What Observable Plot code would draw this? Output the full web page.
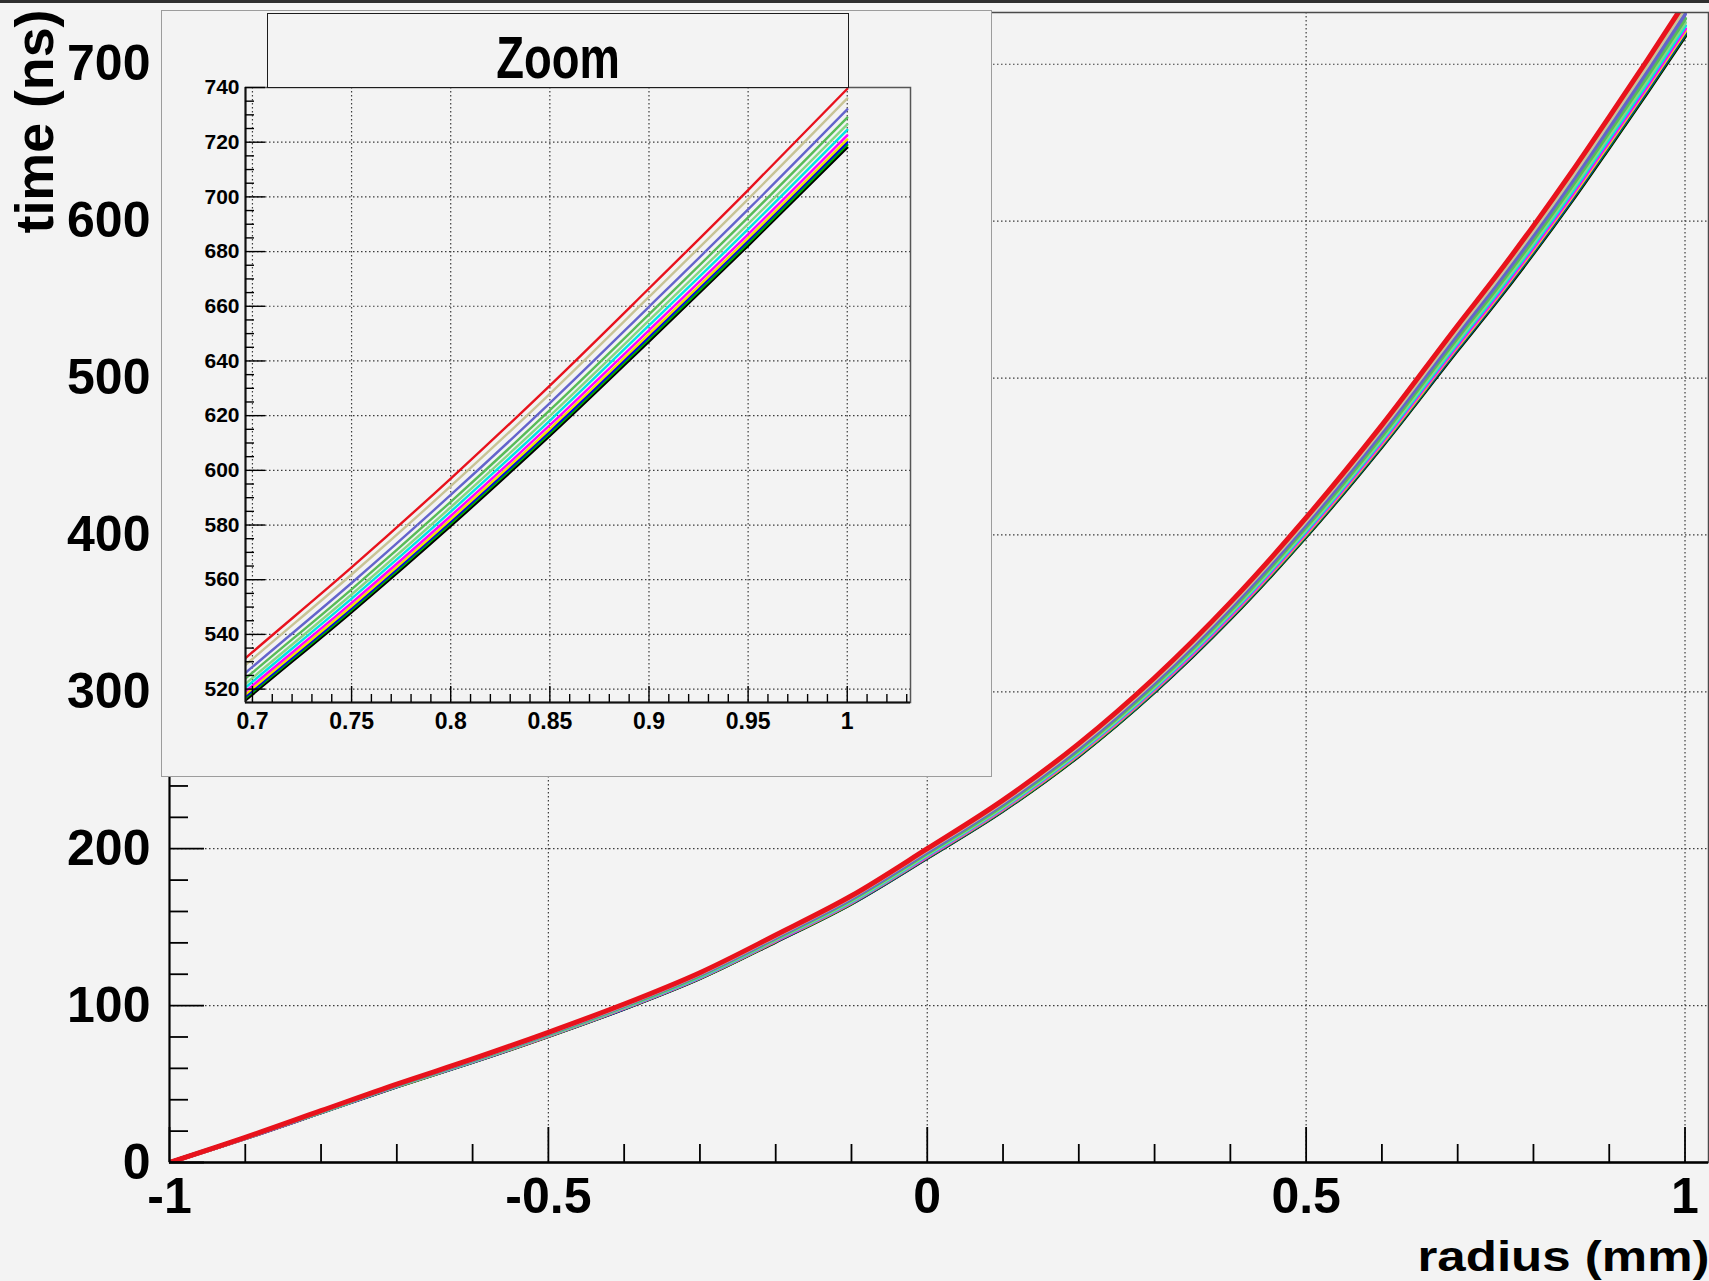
<!DOCTYPE html>
<html>
<head>
<meta charset="utf-8">
<script src="https://cdn.jsdelivr.net/npm/d3@7"></script>
<script src="https://cdn.jsdelivr.net/npm/@observablehq/plot@0.6"></script>
<style>
  html, body { margin: 0; padding: 0; background: #f3f3f3; }
  #canvas { position: relative; width: 1709px; height: 1281px; overflow: hidden; background: #f3f3f3;
            font-family: "Liberation Sans", Arial, Helvetica, sans-serif; }
  #topline { position: absolute; left: 0; top: 0; width: 1709px; height: 3px; background: #2e2e2e; z-index: 5; }
  #main { position: absolute; left: 0; top: 0; }
  #pad { position: absolute; left: 161px; top: 10px; width: 831px; height: 767px; background: #f3f3f3;
         outline: 1px solid #9c9c9c; outline-offset: -1px; }
  #pad svg { position: absolute; left: 0; top: 0; }
  #titlebox { position: absolute; left: 267px; top: 13px; width: 582px; height: 75px; box-sizing: border-box;
              border: 1.5px solid #1c1c1c; background: #f3f3f3; z-index: 3; }
  #titlebox span { position: absolute; left: 50%; top: 15px; font-size: 59px; line-height: 58px; font-weight: bold;
                   color: #000; white-space: nowrap; transform: translateX(-50%) scaleX(0.77); }
</style>
</head>
<body>
<div id="canvas">
  <div id="main"></div>
  <div id="pad"></div>
  <div id="titlebox"><span>Zoom</span></div>
  <div id="topline"></div>
</div>
<script>
// Drift time (ns) against radius (mm), one curve per gas setting.
const radius = [-1, -0.9, -0.8, -0.7, -0.6, -0.5, -0.4, -0.3, -0.2, -0.1, 0, 0.1, 0.2, 0.3, 0.4, 0.5, 0.6, 0.7, 0.75, 0.8, 0.85, 0.9, 0.95, 1];

const tRed        = [0, 16, 33, 50, 66, 83, 101, 121, 145, 170, 200, 231, 267, 309, 357, 411, 470, 533.5, 564.5, 597, 631, 666.5, 702.5, 739.5];
const tTan        = [0, 15.9, 32.8, 49.8, 65.7, 82.6, 100.5, 120.4, 144.3, 169.2, 199.1, 229.9, 265.7, 307.5, 355.3, 409.1, 467.8, 531.0, 561.9, 594.2, 628.0, 663.4, 699.2, 736.0];
const tSlate      = [0, 15.8, 32.7, 49.5, 65.3, 82.2, 100.0, 119.8, 143.5, 168.3, 198.0, 228.7, 264.3, 305.9, 353.4, 406.9, 465.3, 528.1, 558.8, 591.0, 624.6, 659.8, 695.4, 732.0];
const tGreen      = [0, 15.8, 32.5, 49.3, 65.1, 81.8, 99.6, 119.3, 142.9, 167.6, 197.2, 227.7, 263.2, 304.6, 351.9, 405.2, 463.3, 526.0, 556.5, 588.5, 622.0, 657.0, 692.5, 729.0];
const tLightGreen = [0, 15.7, 32.4, 49.1, 64.8, 81.5, 99.2, 118.9, 142.4, 167.0, 196.5, 226.9, 262.3, 303.6, 350.7, 403.8, 461.7, 524.1, 554.6, 586.5, 619.9, 654.8, 690.1, 726.5];
const tCyan       = [0, 15.7, 32.3, 49.0, 64.7, 81.3, 99.0, 118.5, 142.1, 166.5, 195.9, 226.3, 261.6, 302.7, 349.8, 402.7, 460.5, 522.7, 553.1, 584.9, 618.2, 653.0, 688.2, 724.5];
const tMagenta    = [0, 15.6, 32.2, 48.9, 64.5, 81.1, 98.7, 118.2, 141.7, 166.1, 195.4, 225.7, 260.9, 301.9, 348.8, 401.6, 459.2, 521.3, 551.5, 583.3, 616.5, 651.2, 686.3, 722.5];
const tYellow     = [0, 15.6, 32.2, 48.8, 64.4, 80.9, 98.5, 118.0, 141.4, 165.8, 195.0, 225.2, 260.3, 301.3, 348.1, 400.7, 458.3, 520.2, 550.4, 582.1, 615.2, 649.8, 684.9, 721.0];
const tBlue       = [0, 15.6, 32.1, 48.7, 64.3, 80.8, 98.3, 117.8, 141.2, 165.5, 194.7, 224.9, 260.0, 300.8, 347.6, 400.2, 457.6, 519.5, 549.6, 581.3, 614.3, 648.9, 684.0, 720.0];
const tDarkGreen  = [0, 15.6, 32.1, 48.6, 64.2, 80.7, 98.2, 117.6, 141.0, 165.3, 194.5, 224.6, 259.6, 300.4, 347.1, 399.6, 457.0, 518.8, 548.9, 580.5, 613.5, 648.0, 683.0, 719.0];
const tBlack      = [0, 15.5, 32.0, 48.5, 64.1, 80.6, 98.1, 117.5, 140.8, 165.1, 194.2, 224.3, 259.2, 300.0, 346.6, 399.0, 456.4, 518.0, 548.1, 579.6, 612.6, 647.1, 682.1, 718.0];

// drawing order: lowest curve first, red on top
const seriesValues = [tBlack, tDarkGreen, tBlue, tYellow, tMagenta, tCyan, tLightGreen, tGreen, tSlate, tTan, tRed];
const seriesColors = ["#000000", "#00a800", "#0000ee", "#f0e200", "#ff00ff", "#00e4e4", "#84d884", "#58bc58", "#6464cc", "#c8c496", "#e8121c"];

// tick labels
const mainXTicks = [-1, -0.5, 0, 0.5, 1];
const mainYTicks = [0, 100, 200, 300, 400, 500, 600, 700];
const insetXTicks = [0.7, 0.75, 0.8, 0.85, 0.9, 0.95, 1];
const insetYTicks = [520, 540, 560, 580, 600, 620, 640, 660, 680, 700, 720, 740];

const mainXMinor = d3.range(-9, 10).filter(i => i % 5 !== 0).map(i => i / 10);
const mainYMinor = d3.range(20, 733, 20).filter(v => v % 100 !== 0);
const insetXMinor = d3.range(70, 104).filter(i => i % 5 !== 0).map(i => i / 100);
const insetYMinor = d3.range(520, 741, 5).filter(v => v % 20 !== 0);

const series = seriesValues.map((vals, k) => ({
  color: seriesColors[k],
  rows: radius.map((r, i) => ({r, t: vals[i]}))
}));

const font = "'Liberation Sans', Arial, Helvetica, sans-serif";
const gridStyle = {stroke: "#3c3c3c", strokeOpacity: 1, strokeWidth: 1.2, strokeDasharray: "1.5,2.5"};
const fmt = d => String(d);
const blank = () => "";

const main = Plot.plot({
  width: 1709,
  height: 1281,
  marginLeft: 169,
  marginRight: 1,
  marginTop: 12,
  marginBottom: 119,
  style: {background: "transparent", fontFamily: font, fontWeight: "bold", color: "#000", overflow: "visible"},
  x: {domain: [-1, 1.031], label: null},
  y: {domain: [0, 733], label: null},
  marks: [
    Plot.gridX([-0.5, 0, 0.5, 1], gridStyle),
    Plot.gridY(mainYTicks.slice(1), gridStyle),
    ...series.map((s, k) => Plot.line(s.rows, {
      x: "r", y: "t", stroke: s.color, curve: "monotone-x", clip: true,
      strokeWidth: k === series.length - 1 ? 5 : 4
    })),
    Plot.frame({stroke: "#4a4a4a", strokeWidth: 1.5}),
    Plot.ruleY([0], {stroke: "#000", strokeWidth: 2.5}),
    Plot.ruleX([-1], {stroke: "#000", strokeWidth: 2}),
    Plot.axisX(mainXMinor, {tickSize: -18, tickFormat: blank, strokeWidth: 1.8, label: null}),
    Plot.axisX(mainXTicks, {tickSize: -35, tickFormat: blank, strokeWidth: 1.8, label: null}),
    Plot.axisX(mainXTicks, {tickSize: 0, tickPadding: 15, tickFormat: fmt, fontSize: 50, fontWeight: "bold", label: null}),
    Plot.axisY(mainYMinor, {tickSize: -19, tickFormat: blank, strokeWidth: 1.8, label: null}),
    Plot.axisY(mainYTicks, {tickSize: -35, tickFormat: blank, strokeWidth: 1.8, label: null}),
    Plot.axisY(mainYTicks, {tickSize: 0, tickPadding: 19, tickFormat: fmt, fontSize: 50, fontWeight: "bold", label: null}),
    Plot.text(["radius (mm)"], {text: d => d, frameAnchor: "bottom-right", dx: 1, dy: 108,
      textAnchor: "end", lineAnchor: "bottom", fontSize: 43, fontWeight: "bold", fill: "#000"}),
    Plot.text(["time (ns)"], {text: d => d, frameAnchor: "top-left", dx: -117, dy: -3, rotate: -90,
      textAnchor: "end", lineAnchor: "bottom", fontSize: 53, fontWeight: "bold", fill: "#000"})
  ]
});

// axis titles are stretched to their drawn widths
const titleLengths = {"radius (mm)": 292, "time (ns)": 224};
d3.select(main).selectAll("text")
  .filter(function() { return this.textContent in titleLengths; })
  .attr("textLength", function() { return titleLengths[this.textContent]; })
  .attr("lengthAdjust", "spacingAndGlyphs");

document.getElementById("main").appendChild(main);

// Close-up of the upper end of the curves
const insetRows = series.map(s => ({color: s.color, rows: s.rows.filter(d => d.r >= 0.6)}));

const inset = Plot.plot({
  width: 831,
  height: 767,
  marginLeft: 84,
  marginRight: 82,
  marginTop: 77,
  marginBottom: 75,
  style: {background: "transparent", fontFamily: font, fontWeight: "bold", color: "#000", overflow: "visible"},
  x: {domain: [0.6965, 1.0319], label: null},
  y: {domain: [515.1, 740], label: null},
  marks: [
    Plot.gridX(insetXTicks, gridStyle),
    Plot.gridY(insetYTicks, gridStyle),
    ...insetRows.map(s => Plot.line(s.rows, {
      x: "r", y: "t", stroke: s.color, strokeWidth: 2.4, curve: "monotone-x", clip: true
    })),
    Plot.frame({stroke: "#555", strokeWidth: 1.5}),
    Plot.ruleY([515.1], {stroke: "#111", strokeWidth: 2}),
    Plot.ruleX([0.6965], {stroke: "#111", strokeWidth: 2}),
    Plot.axisX(insetXMinor, {tickSize: -8, tickFormat: blank, strokeWidth: 1.4, label: null}),
    Plot.axisX(insetXTicks, {tickSize: -16, tickFormat: blank, strokeWidth: 1.4, label: null}),
    Plot.axisX(insetXTicks, {tickSize: 0, tickPadding: 10, tickFormat: fmt, fontSize: 23, fontWeight: "bold", label: null}),
    Plot.axisY(insetYMinor, {tickSize: -9, tickFormat: blank, strokeWidth: 1.4, label: null}),
    Plot.axisY(insetYTicks, {tickSize: -20, tickFormat: blank, strokeWidth: 1.4, label: null}),
    Plot.axisY(insetYTicks, {tickSize: 0, tickPadding: 6, tickFormat: fmt, fontSize: 21, fontWeight: "bold", label: null})
  ]
});

document.getElementById("pad").appendChild(inset);
</script>
</body>
</html>
